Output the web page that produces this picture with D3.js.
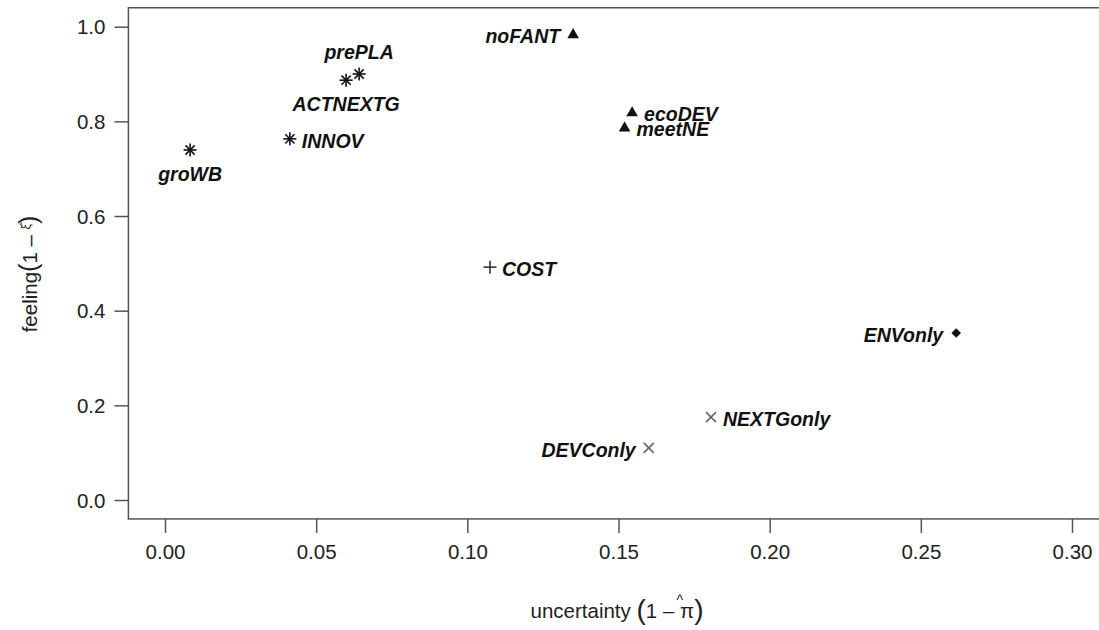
<!DOCTYPE html>
<html><head><meta charset="utf-8">
<script src="https://cdn.jsdelivr.net/npm/d3@7"></script>
<style>body{margin:0;background:#fff}svg{display:block}</style>
</head><body>
<svg id="c" width="1099" height="630"></svg>
<script>
const names = ["groWB","INNOV","ACTNEXTG","prePLA","noFANT","ecoDEV","meetNE","COST","ENVonly","NEXTGonly","DEVConly"];
const uncertainty = [0.0083,0.0413,0.0599,0.0642,0.135,0.1545,0.152,0.1075,0.2617,0.1806,0.160];
const feeling = [0.7395,0.763,0.887,0.900,0.985,0.820,0.788,0.492,0.353,0.175,0.110];
const groups = ["asterisk","asterisk","asterisk","asterisk","triangle","triangle","triangle","plus","diamond","cross","cross"];
const labelPos = ["below","right","below","above","left","right","right","right","left","right","left"];
const xTicks = [0,0.05,0.10,0.15,0.20,0.25,0.30];
const yTicks = [0,0.2,0.4,0.6,0.8,1.0];

const svg = d3.select("#c");
const x = d3.scaleLinear().domain([0,0.3]).range([165,1072]);
const y = d3.scaleLinear().domain([0,1]).range([500,26.7]);
const font = "'Liberation Sans', Arial, Helvetica, sans-serif";

// box
svg.append("rect").attr("x",x(-0.0121)).attr("y",y(1.04)).attr("width",x(0.3121)-x(-0.0121)).attr("height",y(-0.04)-y(1.04))
  .attr("fill","none").attr("stroke","#555").attr("stroke-width",1.5);

// axes
const xAxis = d3.axisBottom(x).tickValues(xTicks).tickFormat(d3.format(".2f")).tickSize(14).tickPadding(9);
const gx = svg.append("g").attr("transform",`translate(0,${y(-0.04)})`).call(xAxis);
gx.select(".domain").remove();
const yAxis = d3.axisLeft(y).tickValues(yTicks).tickFormat(d3.format(".1f")).tickSize(14).tickPadding(9);
const gy = svg.append("g").attr("transform",`translate(${x(-0.0121)},0)`).call(yAxis);
gy.select(".domain").remove();
[gx,gy].forEach(g=>{
  g.selectAll(".tick line").attr("stroke","#555").attr("stroke-width",1.5);
  g.selectAll(".tick text").attr("fill","#222").style("font-family",font).style("font-size","20.5px");
});
gx.selectAll(".tick text").attr("dy","0.85em");
gy.selectAll(".tick text").attr("dy","0.35em");

// markers
const col = {asterisk:"#111",triangle:"#111",plus:"#333",diamond:"#111",cross:"#666"};
function marker(g,type){
  const c = col[type];
  if(type==="asterisk"){
    const r=6.5;
    [0,45,90,135].forEach(a=>{
      const t=a*Math.PI/180;
      g.append("line").attr("x1",-r*Math.cos(t)).attr("y1",-r*Math.sin(t)).attr("x2",r*Math.cos(t)).attr("y2",r*Math.sin(t))
        .attr("stroke",c).attr("stroke-width",1.6);
    });
  } else if(type==="triangle"){
    g.append("path").attr("d",d3.symbol(d3.symbolTriangle,58)()).attr("fill",c).attr("transform","translate(0,1)");
  } else if(type==="plus"){
    const r=6.5;
    g.append("line").attr("x1",-r).attr("x2",r).attr("y1",0).attr("y2",0).attr("stroke",c).attr("stroke-width",1.6);
    g.append("line").attr("x1",0).attr("x2",0).attr("y1",-r).attr("y2",r).attr("stroke",c).attr("stroke-width",1.6);
  } else if(type==="diamond"){
    g.append("path").attr("d","M0,-4.8L4.8,0L0,4.8L-4.8,0Z").attr("fill",c);
  } else if(type==="cross"){
    const r=5;
    g.append("line").attr("x1",-r).attr("x2",r).attr("y1",-r).attr("y2",r).attr("stroke",c).attr("stroke-width",1.6);
    g.append("line").attr("x1",-r).attr("x2",r).attr("y1",r).attr("y2",-r).attr("stroke",c).attr("stroke-width",1.6);
  }
}
names.forEach((n,i)=>{
  const px=x(uncertainty[i]), py=y(feeling[i]);
  const g=svg.append("g").attr("transform",`translate(${px},${py})`);
  marker(g,groups[i]);
  const t=svg.append("text").text(n).style("font-family",font).style("font-size","19.5px")
    .style("font-weight","bold").style("font-style","italic").attr("fill","#111");
  const p=labelPos[i];
  if(p==="below") t.attr("x",px).attr("y",py+24).attr("text-anchor","middle").attr("dy","0.35em");
  else if(p==="above") t.attr("x",px).attr("y",py-22).attr("text-anchor","middle").attr("dy","0.35em");
  else if(p==="right") t.attr("x",px+12).attr("y",py+2).attr("text-anchor","start").attr("dy","0.35em");
  else t.attr("x",px-13).attr("y",py+2).attr("text-anchor","end").attr("dy","0.35em");
});

// x axis title
const xt = svg.append("text").attr("y",618).style("font-family",font).style("font-size","20.5px").attr("fill","#222");
xt.append("tspan").text("uncertainty ");
xt.append("tspan").text("(").style("font-size","28px").attr("dy","1");
xt.append("tspan").text("1 \u2013 ").attr("dy","-1");
xt.append("tspan").text("\u03c0");
xt.append("tspan").text(")").style("font-size","28px").attr("dy","1");
const xw = xt.node().getComputedTextLength();
xt.attr("x",617 - xw/2);
const piStart = xt.node().getStartPositionOfChar(16);
svg.append("text").text("^").attr("x",piStart.x+5.5).attr("y",605).attr("text-anchor","middle")
  .style("font-family",font).style("font-size","14px").attr("fill","#222");

// y axis title
const yt = svg.append("text").attr("transform","translate(37,274) rotate(-90)").attr("text-anchor","middle")
  .style("font-family",font).style("font-size","20.5px").attr("fill","#222");
yt.append("tspan").text("feeling");
yt.append("tspan").text("(").style("font-size","25px");
yt.append("tspan").text("1 \u2013 ");
yt.append("tspan").text("\u03be\u0302").style("font-size","12px").attr("dy","-7");
yt.append("tspan").text(")").style("font-size","25px").attr("dy","7");
</script>
</body></html>
